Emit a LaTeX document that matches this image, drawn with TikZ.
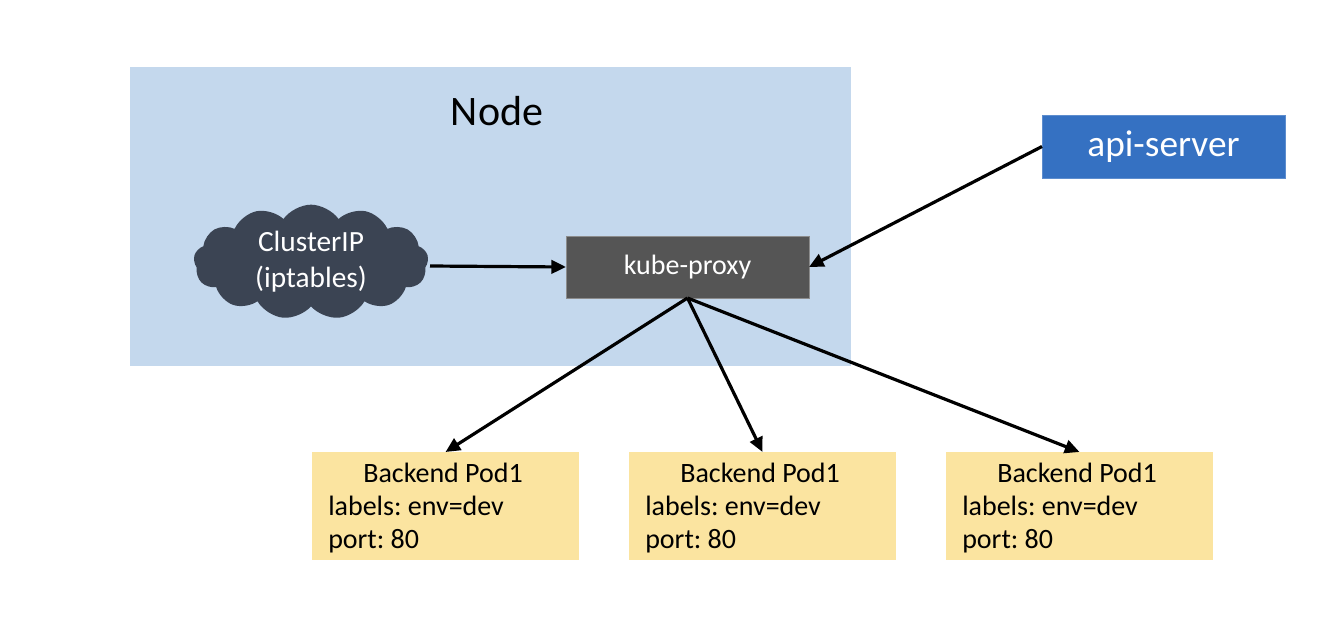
\documentclass[tikz,border=0pt]{standalone}
\usepackage{fontspec}
\setmainfont{Carlito}
\frenchspacing
\usetikzlibrary{arrows.meta,shapes.symbols}
\definecolor{nodebg}{HTML}{C4D8ED}
\definecolor{apiblue}{HTML}{3571C2}
\definecolor{proxygray}{HTML}{555555}
\definecolor{cloudc}{HTML}{3B4453}
\definecolor{podc}{HTML}{FBE4A0}
\begin{document}
\begin{tikzpicture}[x=0.75pt,y=-0.75pt,
  box/.style={rectangle,inner sep=0pt,outer sep=0pt},
  conn/.style={line width=2.4pt,-{Triangle[length=11pt,width=10pt]}},
  pod/.style={box,fill=podc,minimum width=200.25pt,minimum height=81pt},
  podtxt/.style={anchor=base west,inner sep=0pt,font=\fontsize{21}{25}\selectfont}]
\useasboundingbox (0,0) rectangle (1341,621);
\fill[white] (0,0) rectangle (1341,621);
\node[box,fill=nodebg,minimum width=540.75pt,minimum height=224.25pt] (node) at (490.5,216.5) {};
\node[inner sep=0pt,font=\fontsize{31.5}{36}\selectfont] (nodelbl) at (497,111) {Node};
\node[box,fill=apiblue,draw=apiblue!80!white,line width=0.6pt,minimum width=182.25pt,minimum height=47.25pt,text=white,font=\fontsize{28}{33}\selectfont] (api) at (1163.5,146.5) {api-server};
\node[box,fill=proxygray,draw=gray!90,line width=0.5pt,minimum width=182.25pt,minimum height=46.5pt,text=white,font=\fontsize{21}{25}\selectfont] (proxy) at (687.5,267) {kube-proxy};
\node[cloud,cloud puffs=13,cloud puff arc=110,aspect=2.1,fill=cloudc,inner sep=0pt,minimum width=176pt,minimum height=86pt,text=white,align=center,font=\fontsize{22}{27}\selectfont] (cloud) at (311,262) {ClusterIP\\(iptables)};
\node[pod] (pod1) at (445.5,506) {};
\node[pod] (pod2) at (762.5,506) {};
\node[pod] (pod3) at (1079.5,506) {};
\foreach \p/\x in {pod1/312,pod2/629,pod3/946}{
  \node[podtxt] (\p a) at (\x+51,482) {Backend Pod1};
  \node[podtxt] (\p b) at (\x+16,515) {labels: env=dev};
  \node[podtxt] (\p c) at (\x+16,548) {port: 80};
}
\coordinate (cloudE) at (430,266);
\draw[conn] (cloudE) -- (proxy.west);
\draw[conn] (api.west) -- (proxy.east);
\draw[conn] (proxy.south) -- (pod1.north);
\draw[conn] (proxy.south) -- (pod2.north);
\draw[conn] (proxy.south) -- (pod3.north);
\end{tikzpicture}
\end{document}
